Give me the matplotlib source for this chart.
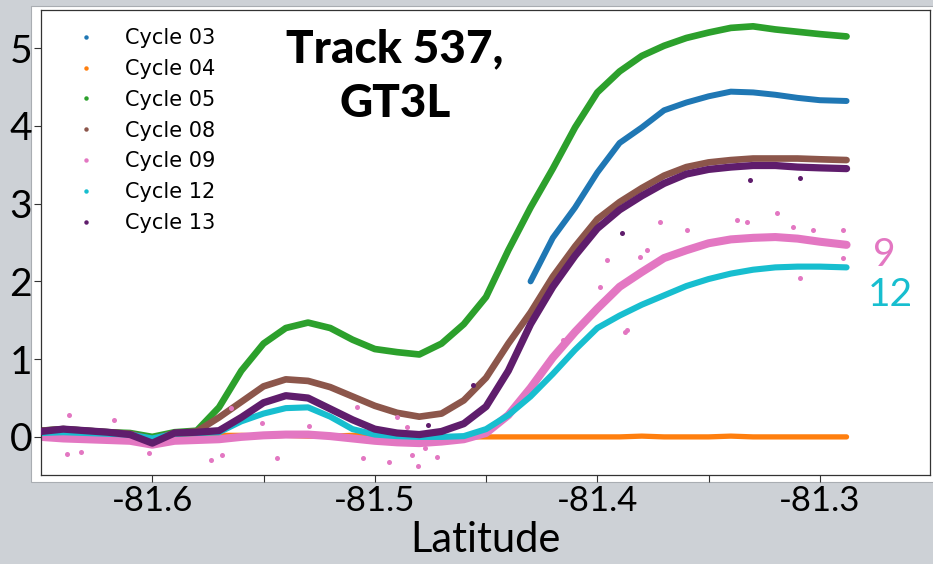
import numpy as np
import matplotlib
matplotlib.use("Agg")
import matplotlib.pyplot as plt
from matplotlib.lines import Line2D
from matplotlib.patches import Rectangle

nan = np.nan

# Along-track latitude grid (degrees)
latitude = [-81.65, -81.64, -81.63, -81.62, -81.61, -81.60, -81.59, -81.58,
            -81.57, -81.56, -81.55, -81.54, -81.53, -81.52, -81.51, -81.50,
            -81.49, -81.48, -81.47, -81.46, -81.45, -81.44, -81.43, -81.42,
            -81.41, -81.40, -81.39, -81.38, -81.37, -81.36, -81.35, -81.34,
            -81.33, -81.32, -81.31, -81.30, -81.288]

cycle_labels = ["Cycle 03", "Cycle 04", "Cycle 05", "Cycle 08",
                "Cycle 09", "Cycle 12", "Cycle 13"]

cycle03 = [0.05, 0.07, 0.04, 0.02, 0.00, -0.05, 0.03, 0.05,
           nan, nan, nan, nan, nan, nan, nan, nan,
           nan, nan, nan, nan, nan, nan, 2.00, 2.56,
           2.95, 3.40, 3.78, 3.98, 4.20, 4.30, 4.38, 4.44,
           4.43, 4.40, 4.36, 4.33, 4.32]
cycle04 = [0.03, 0.03, 0.02, 0.02, 0.01, 0.00, 0.02, 0.02,
           0.02, 0.02, 0.01, 0.02, 0.01, 0.01, 0.02, 0.01,
           0.01, 0.01, 0.00, 0.00, 0.00, 0.00, 0.00, 0.00,
           0.00, 0.00, 0.00, 0.01, 0.00, 0.00, 0.00, 0.01,
           0.00, 0.00, 0.00, 0.00, 0.00]
cycle05 = [0.08, 0.10, 0.08, 0.06, 0.05, 0.00, 0.06, 0.08,
           0.38, 0.85, 1.20, 1.40, 1.47, 1.40, 1.25, 1.13,
           1.09, 1.06, 1.20, 1.45, 1.80, 2.40, 2.95, 3.45,
           3.98, 4.43, 4.70, 4.90, 5.03, 5.13, 5.20, 5.26,
           5.28, 5.24, 5.21, 5.18, 5.15]
cycle08 = [0.08, 0.10, 0.08, 0.06, 0.04, -0.03, 0.05, 0.07,
           0.25, 0.45, 0.65, 0.74, 0.72, 0.64, 0.52, 0.40,
           0.31, 0.26, 0.30, 0.47, 0.76, 1.20, 1.60, 2.06,
           2.45, 2.80, 3.02, 3.20, 3.36, 3.47, 3.53, 3.56,
           3.58, 3.58, 3.58, 3.57, 3.56]
cycle09 = [0.00, -0.02, -0.03, -0.04, -0.05, -0.10, -0.05, -0.04,
           -0.03, 0.00, 0.02, 0.03, 0.03, 0.01, -0.02, -0.05,
           -0.07, -0.08, -0.06, -0.03, 0.05, 0.28, 0.63, 1.02,
           1.35, 1.65, 1.93, 2.12, 2.30, 2.40, 2.49, 2.54,
           2.56, 2.57, 2.55, 2.51, 2.47]
cycle12 = [0.05, 0.06, 0.05, 0.04, 0.03, -0.02, 0.04, 0.05,
           0.06, 0.20, 0.30, 0.37, 0.38, 0.26, 0.10, 0.03,
           0.01, 0.00, 0.00, 0.01, 0.10, 0.28, 0.52, 0.81,
           1.12, 1.40, 1.56, 1.70, 1.82, 1.94, 2.03, 2.10,
           2.15, 2.18, 2.19, 2.19, 2.18]
cycle13 = [0.07, 0.10, 0.08, 0.06, 0.03, -0.08, 0.05, 0.06,
           0.08, 0.25, 0.44, 0.53, 0.50, 0.36, 0.22, 0.10,
           0.05, 0.03, 0.07, 0.17, 0.39, 0.85, 1.45, 1.93,
           2.33, 2.68, 2.92, 3.10, 3.26, 3.38, 3.44, 3.47,
           3.49, 3.49, 3.47, 3.46, 3.45]

# isolated returns lying off the main Cycle 09 / Cycle 13 profiles
cycle09_stray_lat = [-81.6373, -81.6171, -81.6382, -81.6319, -81.6013,
                     -81.5735, -81.5685, -81.5645, -81.5505, -81.5438,
                     -81.5294, -81.5082, -81.5055, -81.4934, -81.4898,
                     -81.4857, -81.4835, -81.4808, -81.4776, -81.4722,
                     -81.4156, -81.3989, -81.3958, -81.3877, -81.3868,
                     -81.3809, -81.3778, -81.3719, -81.3598, -81.3373,
                     -81.3328, -81.3193, -81.3121, -81.3090, -81.3031,
                     -81.2896, -81.2896]
cycle09_stray_val = [0.28, 0.22, -0.22, -0.19, -0.21,
                     -0.30, -0.23, 0.37, 0.18, -0.27,
                     0.14, 0.39, -0.27, -0.32, 0.26,
                     0.13, -0.23, -0.38, -0.14, -0.26,
                     1.25, 1.93, 2.27, 1.35, 1.38,
                     2.31, 2.40, 2.76, 2.66, 2.79,
                     2.76, 2.88, 2.70, 2.04, 2.66,
                     2.66, 2.30]
cycle13_stray_lat = [-81.4560, -81.4763, -81.3890, -81.3314, -81.3090]
cycle13_stray_val = [0.67, 0.15, 2.62, 3.30, 3.33]

series = [cycle03, cycle04, cycle05, cycle08, cycle09, cycle12, cycle13]
colors = ["#1f77b4", "#ff7f0e", "#2ca02c", "#8c564b",
          "#e377c2", "#17becf", "#5f1d6c"]
widths = [4.3, 3.8, 4.8, 4.8, 5.8, 4.4, 5.2]

xticks = [-81.6, -81.55, -81.5, -81.45, -81.4, -81.35, -81.3]
xticklabels = ["-81.6", "", "-81.5", "", "-81.4", "", "-81.3"]
yticks = [0, 1, 2, 3, 4, 5]
yticklabels = ["0", "1", "2", "3", "4", "5"]

W, H = 933, 564
fig = plt.figure(figsize=(W / 100, H / 100), dpi=100, facecolor="#cdd1d6")

# white plot panel behind the axes
panel = Rectangle((31 / W, (H - 482) / H), 1.0, (482 - 6) / H,
                  transform=fig.transFigure, facecolor="white",
                  edgecolor="#a9adb2", linewidth=0.8, zorder=-5)
fig.patches.append(panel)

ax = fig.add_axes([41 / W, (H - 475) / H, (930 - 41) / W, (475 - 10) / H])
ax.set_zorder(2)
ax.set_facecolor("white")

for i, (vals, col, lw) in enumerate(zip(series, colors, widths)):
    ax.plot(latitude, vals, color=col, lw=lw, solid_capstyle="round",
            solid_joinstyle="round", zorder=2 + i * 0.1)
ax.scatter(cycle09_stray_lat, cycle09_stray_val, s=13, color=colors[4],
           linewidths=0, zorder=2.45)
ax.scatter(cycle13_stray_lat, cycle13_stray_val, s=13, color=colors[6],
           linewidths=0, zorder=2.65)

ax.set_xlim(-81.65, -81.2505)
ax.set_ylim(-0.49, 5.49)

tick_font = dict(family=["Lato", "DejaVu Sans"])
ax.set_xticks(xticks)
ax.set_xticklabels(xticklabels, fontsize=25, **tick_font)
ax.set_yticks(yticks)
ax.set_yticklabels(yticklabels, fontsize=28, **tick_font)
ax.tick_params(axis="both", direction="out", length=5, width=0.8,
               color="#333333")
ax.tick_params(axis="x", pad=2)
ax.tick_params(axis="y", pad=1.5)
ax.set_xlabel("Latitude", fontsize=30, family=["Lato", "DejaVu Sans"],
              labelpad=3)
for s in ax.spines.values():
    s.set_color("#333333")
    s.set_linewidth(0.9)

handles = [Line2D([], [], ls="none", marker="o", ms=3.2, color=c,
                  markeredgewidth=0) for c in colors]
ax.legend(handles, cycle_labels, loc="upper left", frameon=False,
          labelspacing=0.52, handlelength=1.0, handletextpad=1.375,
          borderaxespad=0.0, bbox_to_anchor=(0.030, 0.979),
          prop=dict(family="DejaVu Sans", size=15))

title_font = dict(fontsize=33, fontweight="black",
                  family=["Lato", "DejaVu Sans"], ha="center",
                  va="baseline", zorder=5)
fig.text(395 / W, 1 - 62 / H, "Track 537,", **title_font)
fig.text(395 / W, 1 - 117 / H, "GT3L", **title_font)

fig.text(884 / W, 1 - 255 / H, "9", color="#e377c2", fontsize=28,
         ha="center", va="center", family=["Lato", "DejaVu Sans"],
         zorder=5)
fig.text(890 / W, 1 - 295 / H, "12", color="#17becf", fontsize=28,
         ha="center", va="center", family=["Lato", "DejaVu Sans"],
         zorder=5)

fig.savefig("out.png", dpi=100, facecolor=fig.get_facecolor())
